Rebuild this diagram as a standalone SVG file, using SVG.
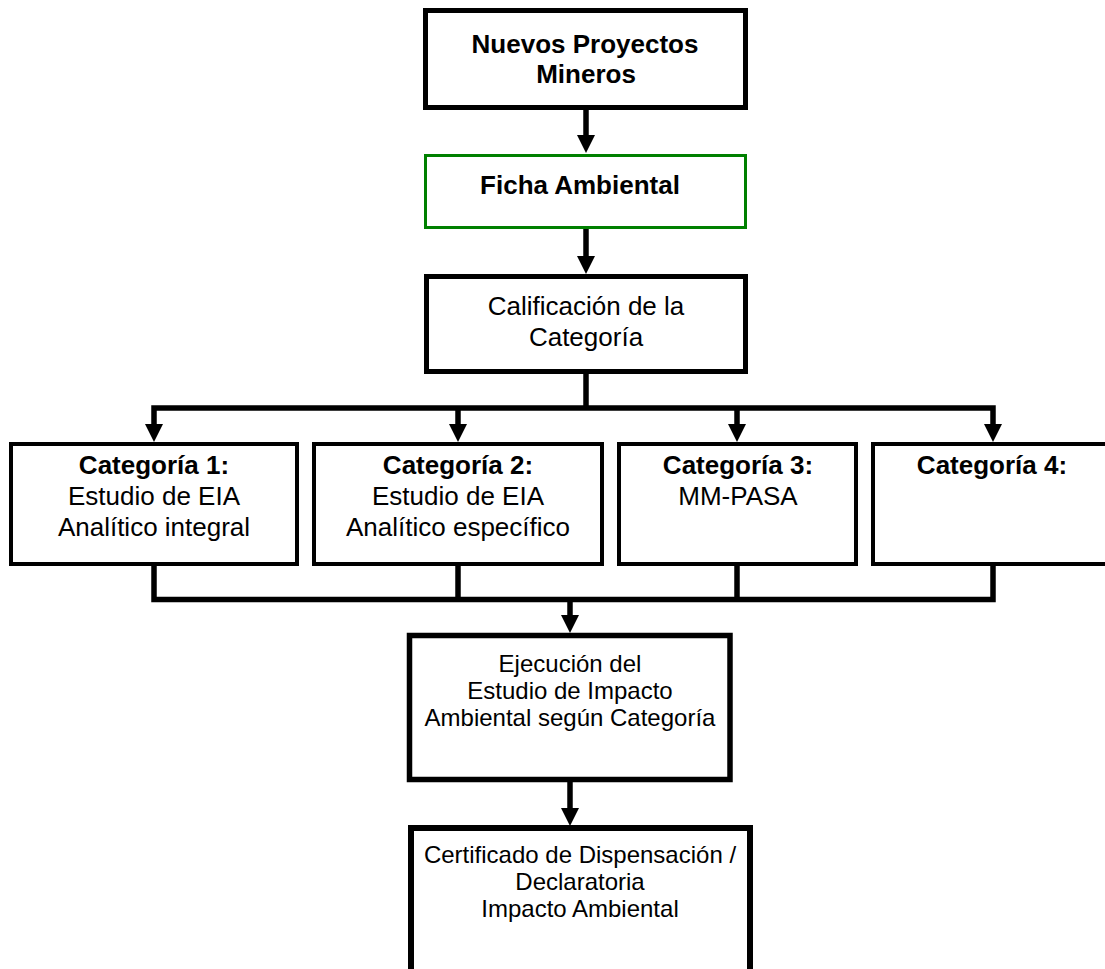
<svg xmlns="http://www.w3.org/2000/svg" width="1105" height="969" viewBox="0 0 1105 969">
  <style>
    .box { fill: #ffffff; stroke: #000000; }
    .green { fill: #ffffff; stroke: #008000; stroke-width: 3; }
    .t { font-family: "Liberation Sans", Arial, sans-serif; fill: #000000; text-anchor: middle; }
    .b { font-weight: bold; }
    .f26 { font-size: 26px; }
    .f24 { font-size: 24px; }
    .conn { fill: none; stroke: #000000; stroke-width: 5.5; stroke-linejoin: miter; stroke-linecap: butt; }
  </style>
  <defs>
    <marker id="arrow" markerUnits="userSpaceOnUse" markerWidth="18" markerHeight="18" refX="0" refY="9" orient="auto-start-reverse">
      <path d="M0,0 L18,9 L0,18 Z" fill="#000000"/>
    </marker>
  </defs>

  <g id="connectors">
    <path class="conn" d="M586,108 V135" marker-end="url(#arrow)"/>
    <path class="conn" d="M586,229 V256" marker-end="url(#arrow)"/>
    <path class="conn" d="M586,372 V408"/>
    <path class="conn" d="M154,424 V408 H993 V424" marker-start="url(#arrow)" marker-end="url(#arrow)"/>
    <path class="conn" d="M458,408 V424" marker-end="url(#arrow)"/>
    <path class="conn" d="M737,408 V424" marker-end="url(#arrow)"/>
    <path class="conn" d="M154,564 V599.5 H993 V564"/>
    <path class="conn" d="M458,564 V599.5"/>
    <path class="conn" d="M737,564 V599.5"/>
    <path class="conn" d="M570,599.5 V615" marker-end="url(#arrow)"/>
    <path class="conn" d="M570,780 V808" marker-end="url(#arrow)"/>
  </g>

  <g id="nuevos">
    <rect class="box" x="425.5" y="10.5" width="320" height="97" stroke-width="5"/>
    <text class="t b f26" x="585" y="53">Nuevos Proyectos</text>
    <text class="t b f26" x="586" y="83">Mineros</text>
  </g>

  <g id="ficha">
    <rect class="green" x="425.5" y="155.5" width="320" height="72"/>
    <text class="t b f26" x="580" y="194">Ficha Ambiental</text>
  </g>

  <g id="calificacion">
    <rect class="box" x="426.5" y="276.5" width="319" height="95" stroke-width="5"/>
    <text class="t f26" x="586" y="315">Calificación de la</text>
    <text class="t f26" x="586" y="346">Categoría</text>
  </g>

  <g id="cat1">
    <rect class="box" x="11" y="444" width="286" height="120" stroke-width="4"/>
    <text class="t b f26" x="154" y="474">Categoría 1:</text>
    <text class="t f26" x="154" y="505">Estudio de EIA</text>
    <text class="t f26" x="154" y="536">Analítico integral</text>
  </g>

  <g id="cat2">
    <rect class="box" x="314" y="444" width="288" height="120" stroke-width="4"/>
    <text class="t b f26" x="458" y="474">Categoría 2:</text>
    <text class="t f26" x="458" y="505">Estudio de EIA</text>
    <text class="t f26" x="458" y="536">Analítico específico</text>
  </g>

  <g id="cat3">
    <rect class="box" x="619" y="444" width="237" height="120" stroke-width="4"/>
    <text class="t b f26" x="738" y="474">Categoría 3:</text>
    <text class="t f26" x="738" y="505">MM-PASA</text>
  </g>

  <g id="cat4">
    <rect class="box" x="873" y="444" width="250" height="120" stroke-width="4"/>
    <text class="t b f26" x="992" y="474">Categoría 4:</text>
  </g>

  <g id="ejecucion">
    <rect class="box" x="409.5" y="635.5" width="320.5" height="144" stroke-width="5.5"/>
    <text class="t f24" x="570" y="672">Ejecución del</text>
    <text class="t f24" x="570" y="699">Estudio de Impacto</text>
    <text class="t f24" x="570" y="726">Ambiental según Categoría</text>
  </g>

  <g id="certificado">
    <rect class="box" x="411" y="828" width="339" height="200" stroke-width="6"/>
    <text class="t f24" x="580" y="863">Certificado de Dispensación /</text>
    <text class="t f24" x="580" y="890">Declaratoria</text>
    <text class="t f24" x="580" y="917">Impacto Ambiental</text>
  </g>
</svg>
